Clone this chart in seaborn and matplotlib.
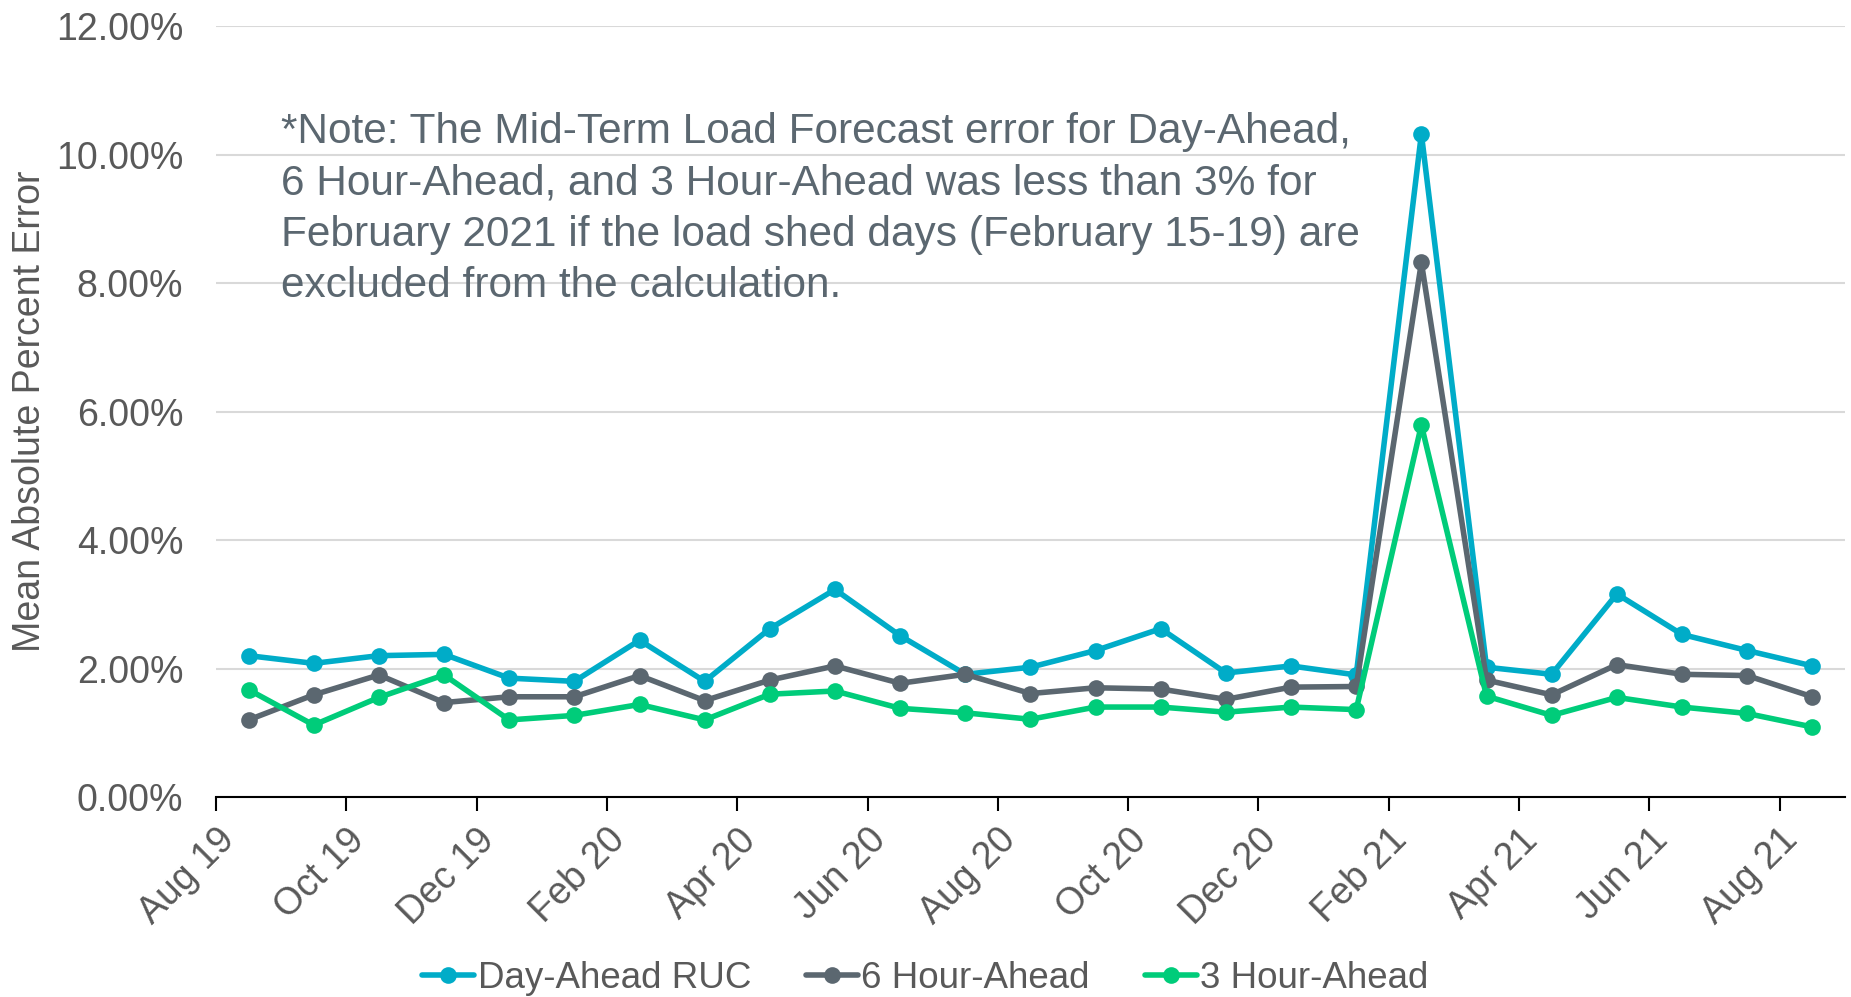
import pandas as pd
import seaborn as sns
import matplotlib.pyplot as plt
from matplotlib.ticker import FuncFormatter

# Monthly MAPE values (%), Aug 2019 - Aug 2021
months = ['Aug 19', 'Sep 19', 'Oct 19', 'Nov 19', 'Dec 19', 'Jan 20', 'Feb 20', 'Mar 20',
          'Apr 20', 'May 20', 'Jun 20', 'Jul 20', 'Aug 20', 'Sep 20', 'Oct 20', 'Nov 20',
          'Dec 20', 'Jan 21', 'Feb 21', 'Mar 21', 'Apr 21', 'May 21', 'Jun 21', 'Jul 21', 'Aug 21']
day_ahead = [2.20, 2.08, 2.20, 2.22, 1.85, 1.80, 2.44, 1.80, 2.62, 3.23, 2.51, 1.91, 2.02,
             2.28, 2.62, 1.93, 2.04, 1.90, 10.32, 2.02, 1.91, 3.16, 2.53, 2.28, 2.04]
six_hour = [1.20, 1.59, 1.90, 1.47, 1.56, 1.56, 1.89, 1.50, 1.82, 2.04, 1.77, 1.91, 1.61,
            1.70, 1.68, 1.52, 1.71, 1.72, 8.32, 1.82, 1.59, 2.06, 1.91, 1.89, 1.56]
three_hour = [1.67, 1.12, 1.55, 1.90, 1.20, 1.27, 1.44, 1.20, 1.60, 1.65, 1.38, 1.31, 1.21,
              1.40, 1.40, 1.32, 1.40, 1.36, 5.79, 1.57, 1.27, 1.55, 1.40, 1.30, 1.09]
series_names = ['Day-Ahead RUC', '6 Hour-Ahead', '3 Hour-Ahead']
tick_labels = months[::2]

note = ("*Note: The Mid-Term Load Forecast error for Day-Ahead,\n"
        "6 Hour-Ahead, and 3 Hour-Ahead was less than 3% for\n"
        "February 2021 if the load shed days (February 15-19) are\n"
        "excluded from the calculation.")

# long-form table for seaborn
df = pd.DataFrame({
    'idx': list(range(len(months))) * 3,
    'value': day_ahead + six_hour + three_hour,
    'series': [s for s in series_names for _ in months],
})

sns.set_style('white')
plt.rcParams['font.family'] = ['Liberation Sans', 'DejaVu Sans']

text_grey = '#595959'
note_grey = '#5B6770'
palette = {'Day-Ahead RUC': '#00ACC8', '6 Hour-Ahead': '#5B6770', '3 Hour-Ahead': '#00CC7A'}

fig = plt.figure(figsize=(18.51, 9.97), dpi=100)
ax = fig.add_axes([0.1167, 0.2006, 0.880, 0.7733])

sns.lineplot(data=df, x='idx', y='value', hue='series', hue_order=series_names,
             palette=palette, marker='o', markersize=12, markeredgewidth=0,
             linewidth=4, ax=ax)

ax.set_xlim(-0.5, len(months) - 0.5)
ax.set_ylim(0, 12)
ax.set_yticks([0, 2, 4, 6, 8, 10, 12])
ax.yaxis.set_major_formatter(FuncFormatter(lambda v, p: f'{v:.2f}%'))
ax.set_xticks([i - 0.5 for i in range(0, len(months), 2)])
ax.set_xticklabels(tick_labels, rotation=45, ha='right', rotation_mode='anchor')

ax.grid(axis='y', color='#D9D9D9', linewidth=1.5)
ax.set_axisbelow(True)
for side in ['top', 'right', 'left']:
    ax.spines[side].set_visible(False)
ax.spines['bottom'].set_color('black')
ax.spines['bottom'].set_linewidth(1.5)
ax.tick_params(axis='x', bottom=True, direction='out', length=10, width=1.5,
               color='black', labelsize=27, labelcolor=text_grey, pad=8)
ax.tick_params(axis='y', left=False, labelsize=27, labelcolor=text_grey, pad=20)

ax.set_xlabel('')
ax.set_ylabel('Mean Absolute Percent Error', fontsize=27, color=text_grey, labelpad=6)

ax.text(0.04, 0.888, note, transform=ax.transAxes, fontsize=30.5, color=note_grey,
        va='top', ha='left', linespacing=1.36)

ax.get_legend().remove()
handles, labels = ax.get_legend_handles_labels()
leg = fig.legend(handles, labels, loc='center', bbox_to_anchor=(0.5, 0.019), ncol=3,
                 frameon=False, fontsize=26.5, handlelength=1.4, handletextpad=0.1,
                 columnspacing=1.5)
for t in leg.get_texts():
    t.set_color(text_grey)

fig.savefig('out.png', dpi=100)
